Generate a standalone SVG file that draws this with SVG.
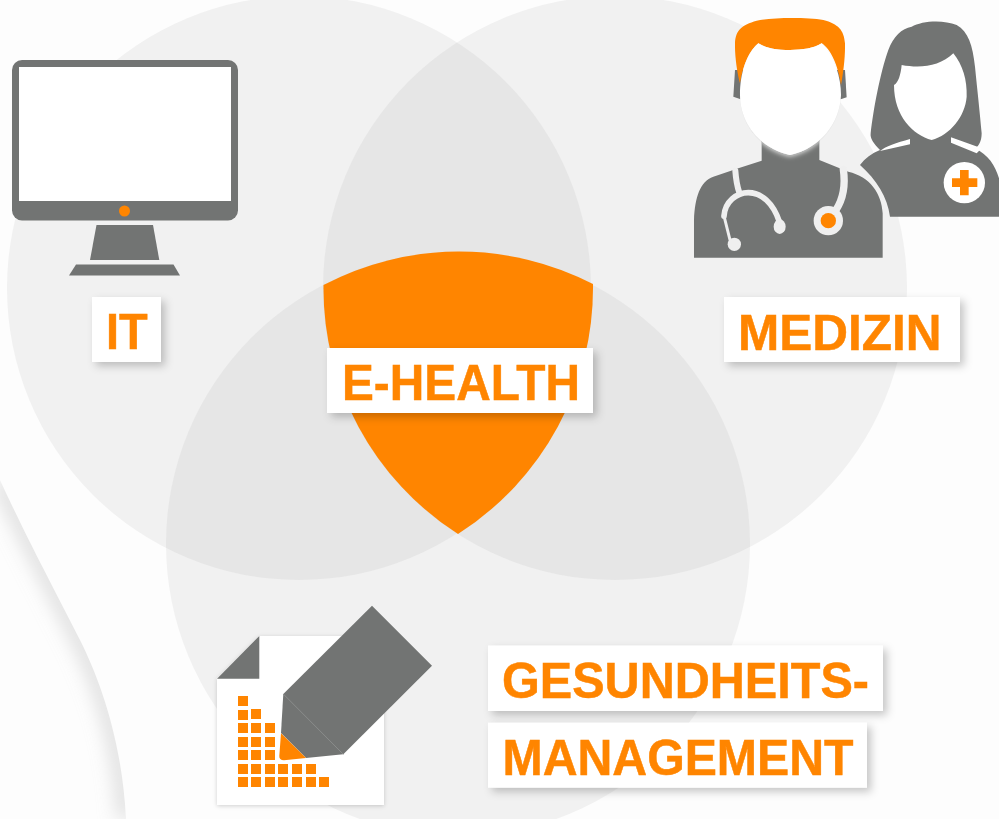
<svg xmlns="http://www.w3.org/2000/svg" width="999" height="819" viewBox="0 0 999 819">
<defs>
<filter id="sh" x="-20%" y="-30%" width="145%" height="170%"><feDropShadow dx="4" dy="4" stdDeviation="4" flood-color="#000" flood-opacity="0.22"/></filter>
<filter id="soft" x="-10%" y="-10%" width="120%" height="120%"><feDropShadow dx="0" dy="1" stdDeviation="2" flood-color="#000" flood-opacity="0.18"/></filter>
<filter id="glow" x="-20%" y="-20%" width="140%" height="140%"><feDropShadow dx="0" dy="4" stdDeviation="8" flood-color="#fff" flood-opacity="0.9"/></filter>
<filter id="blur" x="-50%" y="-10%" width="200%" height="120%"><feGaussianBlur stdDeviation="10"/></filter>
<clipPath id="wedge"><path d="M0,480 C30,545 60,600 80,640 C100,680 122,740 126,819 L0,819 Z"/></clipPath>
<clipPath id="neck"><rect x="245" y="400" width="173" height="90"/></clipPath>
</defs>
<style>
.c{fill:#a0a0a0;fill-opacity:.13}
.g{fill:#727473}
.o{fill:#ff8500}
.w{fill:#fff}
.l{fill:#fff;filter:url(#sh)}
.t{font-family:"Liberation Sans",Arial,sans-serif;font-weight:700;font-size:50px;fill:#ff8500;stroke:#ff8500;stroke-width:.5}
.s{fill:none;stroke:#efefef;stroke-linecap:round}
</style>
<rect width="999" height="819" fill="#fdfdfd"/>
<g clip-path="url(#wedge)"><path d="M0,480 C30,545 60,600 80,640 C100,680 122,740 126,819" fill="none" stroke="#c8c8c8" stroke-width="10" filter="url(#blur)"/></g>
<g id="venn">
<circle class="c" cx="299" cy="288" r="292"/>
<circle class="c" cx="615" cy="288" r="292"/>
<circle class="c" cx="458" cy="544" r="292"/>
<path id="shield" class="o" d="M323.500,285 A292,292 0 0 1 593,284 A292,292 0 0 1 458,534 A292,292 0 0 1 323.500,285 Z"/>
</g>
<g id="connectors"/>
<g id="it">
<rect class="g" x="12" y="60" width="226" height="160.500" rx="10"/>
<rect class="w" x="19" y="67" width="212" height="134"/>
<circle class="o" cx="124.500" cy="211" r="5.500"/>
<path class="g" d="M96.500,225 H153 L159.300,260 H90 Z"/>
<path class="g" d="M76,264.500 H173.500 L180,275.500 H69 Z"/>
<rect class="l" x="92" y="297" width="69" height="65"/>
<text class="t" x="106" y="348.500" textLength="41.700" lengthAdjust="spacingAndGlyphs">IT</text>
</g>
<g id="medizin">
<g transform="translate(680,0) scale(.33333)">
<g id="nurse">
<path class="g" d="M695,80 C725,62 790,58 830,75 C865,95 878,135 885,200 C892,270 900,340 905,400 C905,425 895,440 885,445 C925,465 945,495 957,535 V650 H630 C622,590 590,540 540,495 C555,475 575,460 600,450 C580,430 570,415 572,400 C580,330 600,220 625,150 C640,110 665,85 695,80 Z"/>
<path class="w" d="M665,195 C720,205 780,200 820,160 C848,195 862,240 860,290 C855,350 810,405 755,420 C700,405 642,350 642,255 C655,248 662,225 665,195 Z"/>
<path class="w" d="M690,417 V433 L600,453 C615,440 650,428 690,417 Z M813,412 V428 L890,460 L905,445 Z"/>
<circle class="w" cx="853" cy="548" r="62"/>
<path class="o" d="M840,510 H866 V535 H892 V561 H866 V586 H840 V561 H816 V535 H840 Z"/>
</g>
<g id="doctor">
<path class="g" d="M165,210 L160,290 L182,298 H482 L500,292 L495,210 Z"/>
<path class="g" d="M245,420 H418 V480 L505,515 C570,530 605,580 608,640 V773 H42 V660 C45,590 60,545 100,530 L175,505 L245,482 Z"/>
<path class="o" d="M180,250 C172,220 164,170 165,130 C167,90 185,75 230,62 C280,52 380,52 430,60 C475,72 492,90 495,130 C496,170 490,220 483,255 C475,195 450,145 425,130 C400,145 370,150 330,150 C290,150 260,145 235,130 C210,150 190,190 180,250 Z"/>
<g clip-path="url(#neck)"><path class="w" filter="url(#glow)" d="M235,130 C260,145 290,150 330,150 C370,150 400,145 425,130 C465,170 483,235 483,285 C480,370 420,445 330,465 C240,445 180,370 180,285 C180,220 200,160 235,130 Z"/></g>
<path class="w" filter="url(#soft)" d="M235,130 C260,145 290,150 330,150 C370,150 400,145 425,130 C465,170 483,235 483,285 C480,370 420,445 330,465 C240,445 180,370 180,285 C180,220 200,160 235,130 Z"/>
<path class="s" stroke-width="18" d="M166,512 C168,540 172,560 178,578"/>
<path class="s" stroke-width="17" d="M132,648 C135,605 170,578 205,578 C245,578 280,610 298,665"/>
<path class="s" stroke-width="9" d="M132,648 L150,720"/>
<ellipse cx="299" cy="680" rx="18" ry="22" fill="#efefef"/>
<ellipse cx="163" cy="733" rx="20" ry="20" fill="#efefef"/>
<path class="s" stroke-width="22" d="M490,508 C496,550 494,590 468,630"/>
<circle cx="445" cy="662" r="44" fill="#efefef"/>
<circle class="o" cx="445" cy="662" r="23"/>
</g>
</g>
<rect class="l" x="724" y="297" width="236" height="65"/>
<text class="t" x="738" y="350" textLength="203.500" lengthAdjust="spacingAndGlyphs">MEDIZIN</text>
</g>
<g id="e-health">
<rect class="l" x="327" y="348" width="266" height="65"/>
<text class="t" x="342" y="400" textLength="238" lengthAdjust="spacingAndGlyphs">E-HEALTH</text>
</g>
<g id="gesundheitsmanagement">
<path class="w" filter="url(#soft)" d="M259.300,636 H384 V805 H217 V678.700 Z"/>
<path class="g" d="M259.300,636 V678.700 H217 Z"/>
<g class="o">
<rect x="238" y="696" width="10" height="10"/>
<rect x="238" y="710" width="10" height="10"/><rect x="251" y="709" width="10" height="10"/>
<rect x="238" y="723" width="10" height="10"/><rect x="251" y="723" width="10" height="10"/><rect x="265" y="723" width="10" height="10"/>
<rect x="238" y="737" width="10" height="10"/><rect x="251" y="737" width="10" height="10"/><rect x="265" y="737" width="10" height="10"/>
<rect x="238" y="750" width="10" height="10"/><rect x="251" y="750" width="10" height="10"/><rect x="265" y="750" width="10" height="10"/>
<rect x="238" y="764" width="10" height="10"/><rect x="251" y="764" width="10" height="10"/><rect x="265" y="764" width="10" height="10"/><rect x="278" y="764" width="10" height="10"/><rect x="292" y="764" width="10" height="10"/><rect x="306" y="764" width="10" height="10"/>
<rect x="238" y="777" width="10" height="10"/><rect x="251" y="777" width="10" height="10"/><rect x="265" y="777" width="10" height="10"/><rect x="278" y="777" width="10" height="10"/><rect x="292" y="777" width="10" height="10"/><rect x="306" y="777" width="10" height="10"/><rect x="319" y="777" width="10" height="10"/>
</g>
<path class="g" d="M372,605.700 L432,665.700 L343.300,754.300 L306,758 L281,733 L283.300,694 Z"/>
<path d="M283.300,694 L343.300,754.300" stroke="#8a8c8b" stroke-width="1" fill="none"/>
<path class="o" d="M281,733.300 L306,758 L284,760.300 Q279,760 279.300,756 Z"/>
<rect class="l" x="488" y="645.500" width="395" height="65.500"/>
<text class="t" x="502" y="698" textLength="367" lengthAdjust="spacingAndGlyphs">GESUNDHEITS-</text>
<rect class="l" x="488" y="722.700" width="379" height="65"/>
<text class="t" x="502.500" y="775" textLength="351" lengthAdjust="spacingAndGlyphs">MANAGEMENT</text>
</g>
</svg>
